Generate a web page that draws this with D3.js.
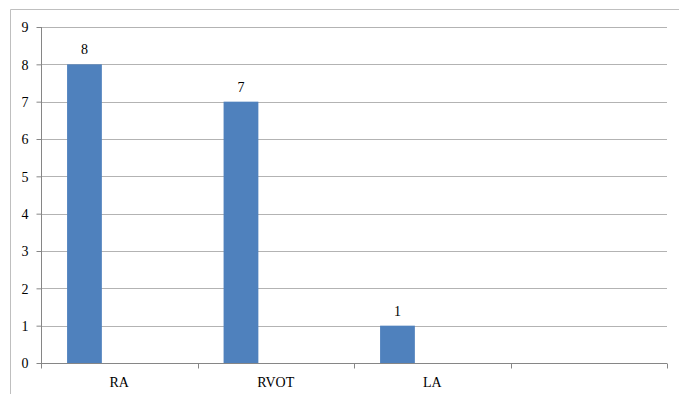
<!DOCTYPE html>
<html>
<head>
<meta charset="utf-8">
<script src="https://cdn.jsdelivr.net/npm/d3@7"></script>
<style>
  html, body { margin: 0; padding: 0; background: #fff; }
  svg { display: block; }
</style>
</head>
<body>
<svg id="chart" width="679" height="394"></svg>
<script>
// Categories and counts
const categories = ["RA", "RVOT", "LA", ""];
const counts = [8, 7, 1, null];
// Clustered layout slots (only the first series carries values)
const seriesSlots = ["Series1", "Series2", "Series3"];
const yTicks = [0, 1, 2, 3, 4, 5, 6, 7, 8, 9];

const FONT = "'Liberation Serif', 'Times New Roman', 'DejaVu Serif', serif";
const FONT_SIZE = 14;

const svg = d3.select("#chart");
const plot = { left: 41, right: 667, top: 27, bottom: 363 };

// Outer chart frame
svg.append("path")
  .attr("d", `M10.5,400 V9.5 H690`)
  .attr("fill", "none")
  .attr("stroke", "#bfbfbf")
  .attr("stroke-width", 1);

const y = d3.scaleLinear().domain([0, 9]).range([plot.bottom, plot.top]);
const x0 = d3.scaleBand().domain(categories).range([plot.left, plot.right]).padding(0);
const x1 = d3.scaleBand().domain(seriesSlots).range([0, x0.bandwidth()])
  .paddingInner(0).paddingOuter(0.75);

// Horizontal gridlines
svg.append("g")
  .selectAll("line")
  .data(yTicks.filter(d => d > 0))
  .join("line")
  .attr("x1", plot.left).attr("x2", plot.right)
  .attr("y1", d => Math.round(y(d)) + 0.5).attr("y2", d => Math.round(y(d)) + 0.5)
  .attr("stroke", "#b3b3b3")
  .attr("stroke-width", 1);

// Bars
const rows = categories.map((c, i) => ({ cat: c, value: counts[i] })).filter(d => d.value != null);
svg.append("g")
  .selectAll("rect")
  .data(rows)
  .join("rect")
  .attr("x", d => x0(d.cat) + x1("Series1"))
  .attr("width", x1.bandwidth())
  .attr("y", d => y(d.value))
  .attr("height", d => y(0) - y(d.value))
  .attr("fill", "#4f81bd");

// Value labels
svg.append("g")
  .attr("font-family", FONT).attr("font-size", FONT_SIZE)
  .selectAll("text")
  .data(rows)
  .join("text")
  .attr("x", d => x0(d.cat) + x1("Series1") + x1.bandwidth() / 2)
  .attr("y", d => y(d.value) - 10)
  .attr("text-anchor", "middle")
  .attr("fill", "#000")
  .text(d => d.value);

// Y axis
const yAxis = svg.append("g")
  .attr("transform", `translate(${plot.left + 0.5},0)`)
  .call(d3.axisLeft(y).tickValues(yTicks).tickSize(5).tickPadding(8).tickFormat(d3.format("d")))
  .attr("font-family", FONT).attr("font-size", FONT_SIZE);
yAxis.select(".domain").attr("stroke", "#868686").attr("d", `M-0,${plot.top}V${plot.bottom}`);
yAxis.selectAll(".tick line").attr("stroke", "#868686");
yAxis.selectAll(".tick text").attr("fill", "#000").attr("dy", "0.35em");

// X axis with tick marks at category boundaries
const xAxisG = svg.append("g")
  .attr("transform", `translate(0,${plot.bottom + 0.5})`)
  .attr("font-family", FONT).attr("font-size", FONT_SIZE);
xAxisG.append("line")
  .attr("x1", plot.left).attr("x2", plot.right)
  .attr("stroke", "#868686");
const boundaries = categories.map(c => x0(c)).concat([plot.right]);
xAxisG.selectAll("line.tick")
  .data(boundaries)
  .join("line")
  .attr("class", "tick")
  .attr("x1", d => Math.round(d) + 0.5).attr("x2", d => Math.round(d) + 0.5)
  .attr("y1", 0).attr("y2", 5)
  .attr("stroke", "#868686");
xAxisG.selectAll("text")
  .data(categories)
  .join("text")
  .attr("x", d => x0(d) + x0.bandwidth() / 2)
  .attr("y", 23)
  .attr("text-anchor", "middle")
  .attr("fill", "#000")
  .text(d => d);
</script>
</body>
</html>
